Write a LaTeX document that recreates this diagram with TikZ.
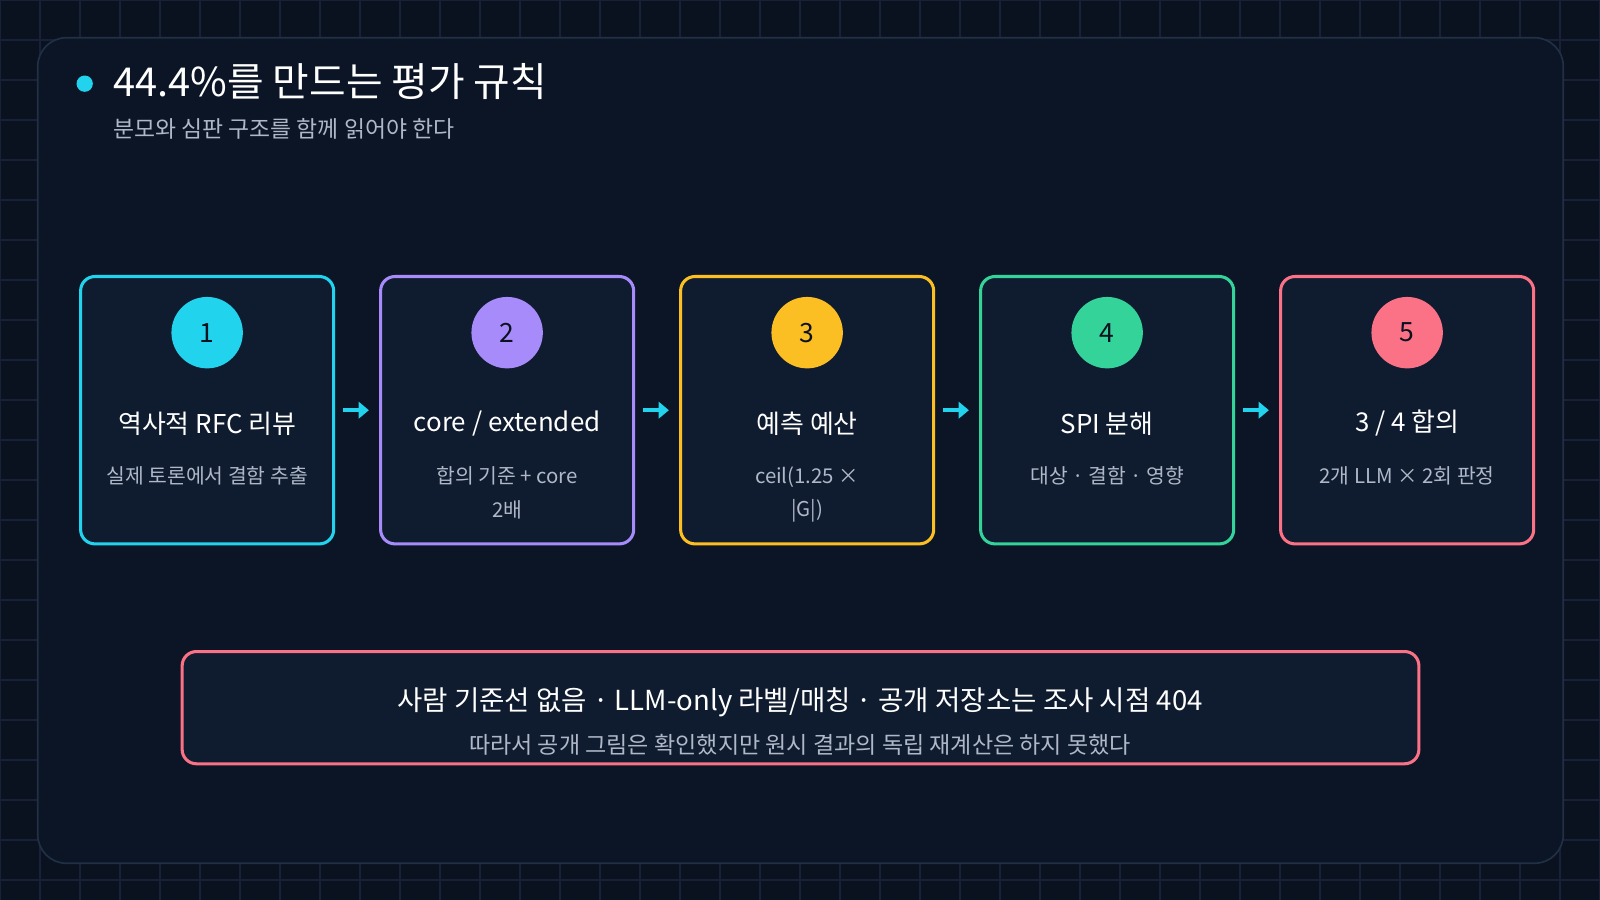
\documentclass[tikz,border=0pt]{standalone}
\usepackage{fontspec}
\setmainfont{Noto Sans CJK KR}
\usetikzlibrary{arrows.meta,positioning}
\definecolor{bgdark}{HTML}{0A1220}
\definecolor{panelbg}{HTML}{0B1526}
\definecolor{panelline}{HTML}{223046}
\definecolor{gridline}{HTML}{17223A}
\definecolor{cardbg}{HTML}{0F1B2E}
\definecolor{subgray}{HTML}{AEB8C8}
\definecolor{cyanc}{HTML}{22D3EE}
\definecolor{purplec}{HTML}{A78BFA}
\definecolor{amberc}{HTML}{FBBF24}
\definecolor{greenc}{HTML}{34D399}
\definecolor{pinkc}{HTML}{FB7185}
\tikzset{
  card/.style={draw=#1, line width=1.5pt, rounded corners=7pt, fill=cardbg,
    minimum width=124pt, minimum height=131pt},
  badge/.style={circle, fill=#1, minimum size=35pt, inner sep=0pt,
    font=\fontsize{13}{15}\selectfont, text=bgdark},
  ctitle/.style={text=white, font=\fontsize{12.7}{15}\selectfont},
  csub/.style={text=subgray, align=center, font=\fontsize{10}{16.5}\selectfont},
  flow/.style={-{Triangle[length=5pt,width=8pt]}, cyanc, line width=2.2pt,
    shorten >=5pt, shorten <=4pt},
}
\begin{document}
\begin{tikzpicture}[x=0.5pt, y=-0.5pt]
  % background and grid
  \fill[bgdark] (0,0) rectangle (1568,882);
  \useasboundingbox (0,0) rectangle (1568,882);
  \foreach \gx in {0,39.2,...,1568} \draw[gridline, line width=0.6pt] (\gx,0) -- (\gx,882);
  \foreach \gy in {0,39.2,...,882} \draw[gridline, line width=0.6pt] (0,\gy) -- (1568,\gy);
  % panel
  \draw[panelline, fill=panelbg, line width=0.8pt, rounded corners=14pt] (37,37) rectangle (1532,846);
  % heading
  \fill[cyanc] (83,82) circle (8);
  \node[anchor=west, text=white, font=\fontsize{19.5}{24}\selectfont] (title) at (104,80) {44.4\%를 만드는 평가 규칙};
  \node[anchor=west, text=subgray, font=\fontsize{11.2}{13}\selectfont] (subtitle) at (104,126) {분모와 심판 구조를 함께 읽어야 한다};
  % step cards
  \foreach \i/\col/\head/\sub in {
      1/cyanc/{역사적 RFC 리뷰}/{실제 토론에서 결함 추출},
      2/purplec/{core / extended}/{합의 기준 + core\\2배},
      3/amberc/{예측 예산}/{ceil(1.25 ×\\|G|)},
      4/greenc/{SPI 분해}/{대상 · 결함 · 영향},
      5/pinkc/{3 / 4 합의}/{2개 LLM × 2회 판정}} {
    \node[card=\col] (card\i) at ({203+294*(\i-1)},402) {};
    \node[badge=\col] (badge\i) at ({203+294*(\i-1)},326) {\i};
    \node[ctitle] (head\i) at ({203+294*(\i-1)},415) {\head};
    \node[csub, anchor=north] (sub\i) at ({203+294*(\i-1)},450) {\sub};
  }
  \foreach \i [evaluate=\i as \j using int(\i+1)] in {1,...,4}
    \draw[flow] (card\i.east) -- (card\j.west);
  % note box
  \node[draw=pinkc, line width=1.5pt, rounded corners=7pt, fill=cardbg,
    minimum width=606pt, minimum height=55pt] (note) at (784.5,693.5) {};
  \node[text=white, font=\fontsize{13.5}{16}\selectfont] (notehead) at (784,688) {사람 기준선 없음 · LLM-only 라벨/매칭 · 공개 저장소는 조사 시점 404};
  \node[text=subgray, font=\fontsize{11.3}{13}\selectfont] (notesub) at (784,730) {따라서 공개 그림은 확인했지만 원시 결과의 독립 재계산은 하지 못했다};
\end{tikzpicture}
\end{document}
